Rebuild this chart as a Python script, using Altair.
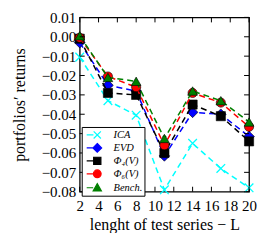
import altair as alt
import pandas as pd

# ---- data ----
L = [2, 5, 8, 11, 14, 17, 20]
ICA = [-0.0105, -0.033, -0.0405, -0.079, -0.055, -0.068, -0.078]
EVD = [-0.003, -0.025, -0.028, -0.0615, -0.039, -0.040, -0.0515]
PHI4 = [-0.001, -0.029, -0.030, -0.060, -0.035, -0.041, -0.054]
PHI6 = [-0.0005, -0.0205, -0.026, -0.056, -0.029, -0.034, -0.0465]
BENCH = [0.0005, -0.021, -0.023, -0.0525, -0.028, -0.033, -0.044]

SERIES = ["ICA", "EVD", "Φ₄(V)", "Φ₆(V)", "Bench."]
COLORS = ["#00FFFF", "#0000FF", "#000000", "#FF0000", "#008000"]
X_TICKS = [2, 4, 6, 8, 10, 12, 14, 16, 18, 20]
Y_TICKS = [-0.08, -0.07, -0.06, -0.05, -0.04, -0.03, -0.02, -0.01, 0.0, 0.01]

VALUES = [ICA, EVD, PHI4, PHI6, BENCH]
rows = []
for name, vals in zip(SERIES, VALUES):
    for l, v in zip(L, vals):
        rows.append({"L": l, "ret": v, "series": name})
df = pd.DataFrame(rows)

FONT = "Liberation Serif"
xs = alt.Scale(domain=[2, 20], nice=False, zero=False, padding=0)
ys = alt.Scale(domain=[-0.08, 0.01], nice=False, zero=False, padding=0)

xaxis = alt.Axis(values=X_TICKS, title="lenght of test series  − L", labelPadding=7,
                 titlePadding=3, titleFontSize=16)
yaxis = alt.Axis(values=Y_TICKS, format=".2f", title="portfolios′ returns", labelPadding=4,
                 titlePadding=14, titleFontSize=16)

X = alt.X("L:Q", scale=xs, axis=xaxis)
Y = alt.Y("ret:Q", scale=ys, axis=yaxis)

SHAPES = ["M-1,-1L1,1M-1,1L1,-1", "diamond", "square", "circle", "triangle-up"]
SIZES = [75, 115, 85, 85, 95]

layers = []
for name, col, shp, sz in zip(SERIES, COLORS, SHAPES, SIZES):
    base = alt.Chart(df).transform_filter(alt.datum.series == name)
    line = base.mark_line(color=col, strokeWidth=1.5, strokeDash=[6, 4]).encode(x=X, y=Y)
    if name == "ICA":
        pts = base.mark_point(shape=shp, filled=False, stroke=col, strokeWidth=1.3,
                              size=sz, opacity=1).encode(x=X, y=Y)
    else:
        pts = base.mark_point(shape=shp, filled=True, fill=col, stroke="black",
                              strokeWidth=0.6, size=sz, opacity=1).encode(x=X, y=Y)
    layers += [line, pts]

# legend-only layer (no marks drawn); symbols = short line + marker
LEG_SHAPES = [
    "M-1.8,0H-0.45M-0.4,-0.72L1.05,0.72M-0.4,0.72L1.05,-0.72",
    "M-1.8,0H-0.55M0.32,-0.88L1.2,0L0.32,0.88L-0.55,0Z",
    "M-1.8,0H-0.45M-0.4,-0.72H1.05V0.72H-0.4Z",
    "M-1.8,0H-0.45M-0.45,0A0.77,0.77 0 1,0 1.1,0A0.77,0.77 0 1,0 -0.45,0Z",
    "M-1.8,0H-0.5M0.32,-0.82L1.15,0.66H-0.5Z",
]
leg = alt.Legend(title=None, orient="none", legendX=2, legendY=110, padding=2,
                 fillColor="white", strokeColor="black",
                 symbolSize=100, symbolStrokeWidth=1.2, symbolOffset=6,
                 labelFont=FONT, labelFontStyle="italic", labelFontSize=10.5,
                 labelColor="black", labelOffset=12, rowPadding=0)
legend_layer = alt.Chart(df).transform_filter("false").mark_point(filled=True, opacity=1).encode(
    x=X, y=Y,
    fill=alt.Fill("series:N", scale=alt.Scale(domain=SERIES, range=COLORS), legend=leg),
    stroke=alt.Stroke("series:N", scale=alt.Scale(domain=SERIES, range=COLORS), legend=leg),
    shape=alt.Shape("series:N", scale=alt.Scale(domain=SERIES, range=LEG_SHAPES), legend=leg),
)

# inward ticks on all four sides, from the tick-value tables
xt = pd.DataFrame({"L": X_TICKS, "lo": [Y_TICKS[0]] * len(X_TICKS), "hi": [Y_TICKS[-1]] * len(X_TICKS)})
yt = pd.DataFrame({"ret": Y_TICKS, "lo": [X_TICKS[0]] * len(Y_TICKS), "hi": [X_TICKS[-1]] * len(Y_TICKS)})
t_bottom = alt.Chart(xt).mark_rule(color="black", strokeWidth=1, y2Offset=-5).encode(
    x=X, y=alt.Y("lo:Q", scale=ys, axis=yaxis), y2="lo:Q")
t_top = alt.Chart(xt).mark_rule(color="black", strokeWidth=1, y2Offset=5).encode(
    x=X, y=alt.Y("hi:Q", scale=ys, axis=yaxis), y2="hi:Q")
t_left = alt.Chart(yt).mark_rule(color="black", strokeWidth=1, x2Offset=5).encode(
    y=Y, x=alt.X("lo:Q", scale=xs, axis=xaxis), x2="lo:Q")
t_right = alt.Chart(yt).mark_rule(color="black", strokeWidth=1, x2Offset=-5).encode(
    y=Y, x=alt.X("hi:Q", scale=xs, axis=xaxis), x2="hi:Q")

chart = alt.layer(*layers, legend_layer, t_bottom, t_top, t_left, t_right).properties(
    width=170, height=175,
    padding={"left": 3, "top": 2, "right": 5, "bottom": 0},
).configure_view(stroke="black", strokeWidth=1.3).configure_axis(
    ticks=False, domain=False, grid=False, labelFlush=False, labelOverlap=False,
    labelFont=FONT, labelFontSize=15, labelColor="black",
    titleFont=FONT, titleFontWeight="normal", titleColor="black",
)

chart.save("out.html", embed_options={"renderer": "svg", "actions": False})
